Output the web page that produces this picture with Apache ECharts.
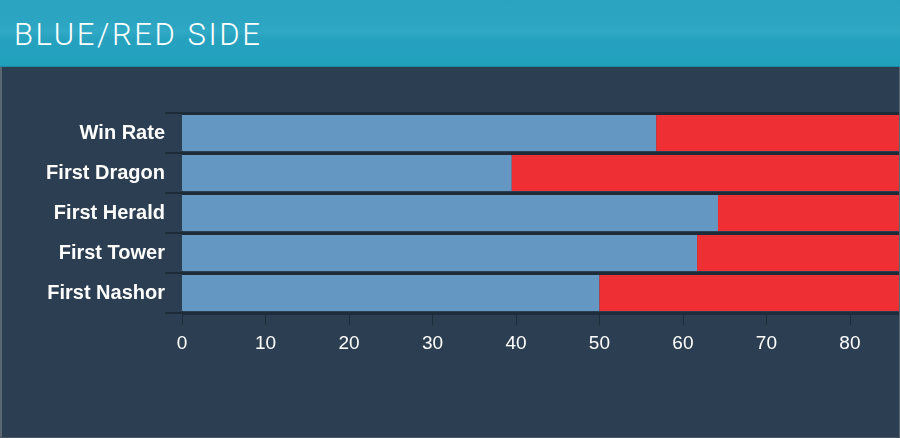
<!DOCTYPE html>
<html>
<head>
<meta charset="utf-8">
<script src="https://cdn.jsdelivr.net/npm/echarts@6/dist/echarts.min.js"></script>
<style>
  html, body { margin: 0; padding: 0; background: #2c3e51; }
  #wrap { position: relative; width: 900px; height: 438px; overflow: hidden; background: #2c3e51; }
  #chart { position: absolute; left: 0; top: 0; width: 900px; height: 438px; }
  #header {
    position: absolute; left: 0; top: 0; width: 900px; height: 66px;
    background: linear-gradient(to bottom, #29a3c0 0%, #2ba5c2 35%, #30a9c5 47%, #26a2bf 58%, #21a0bc 100%);
    border-bottom: 1px solid #1c89a5; z-index: 2;
  }
  #title {
    position: absolute; left: 14px; top: 19px; margin: 0;
    font-family: Roboto, "Open Sans", sans-serif; font-weight: 300;
    font-size: 31px; line-height: 31px; letter-spacing: 2.6px; color: #ffffff;
    white-space: nowrap;
  }
  #bl { position: absolute; left: 0; top: 67px; width: 2px; height: 371px; background: #5b6672; z-index: 3; }
  #br { position: absolute; right: 0; top: 67px; width: 1px; height: 371px; background: #5b6672; z-index: 3; }
  #bb { position: absolute; left: 0; bottom: 0; width: 900px; height: 1px; background: #4a5663; z-index: 3; }
</style>
</head>
<body>
<div id="wrap">
  <div id="chart"></div>
  <div id="header"><div id="title">BLUE/RED SIDE</div></div>
  <div id="bl"></div><div id="br"></div><div id="bb"></div>
</div>
<script>
const categories = ['Win Rate', 'First Dragon', 'First Herald', 'First Tower', 'First Nashor'];
const blueSide = [56.8, 39.5, 64.2, 61.7, 50.0];
const redSide = [43.2, 60.5, 35.8, 38.3, 50.0];
const xTickValues = [0, 10, 20, 30, 40, 50, 60, 70, 80];

const chart = echarts.init(document.getElementById('chart'), null, { renderer: 'canvas' });
const dark = '#1e2b38';
chart.setOption({
  backgroundColor: 'transparent',
  animation: false,
  grid: { left: 182, right: 0, top: 113, bottom: 125, containLabel: false },
  xAxis: {
    type: 'value', min: 0, max: 86, interval: 10,
    axisLine: { show: true, lineStyle: { color: dark, width: 2 } },
    axisTick: { show: true, length: 12, lineStyle: { color: dark, width: 1 } },
    splitLine: { show: false },
    axisLabel: {
      color: '#ffffff', fontSize: 19, fontFamily: '"Liberation Sans", Arial, sans-serif',
      margin: 21, showMaxLabel: false,
      formatter: function (v) { return xTickValues.indexOf(v) >= 0 ? String(v) : ''; }
    }
  },
  yAxis: {
    type: 'category', data: categories, inverse: true,
    axisLine: { show: true, lineStyle: { color: dark, width: 1 } },
    axisTick: { show: true, length: 17, lineStyle: { color: dark, width: 2 } },
    splitLine: { show: true, lineStyle: { color: dark, width: 3 } },
    axisLabel: {
      color: '#ffffff', fontSize: 20, fontWeight: 'bold',
      fontFamily: '"Liberation Sans", Arial, sans-serif', margin: 17
    }
  },
  series: [
    { name: 'Blue', type: 'bar', stack: 'side', data: blueSide, barWidth: 36,
      itemStyle: { color: '#6497c1' }, clip: true },
    { name: 'Red', type: 'bar', stack: 'side', data: redSide, barWidth: 36,
      itemStyle: { color: '#ee3034' }, clip: true }
  ]
});
</script>
</body>
</html>
